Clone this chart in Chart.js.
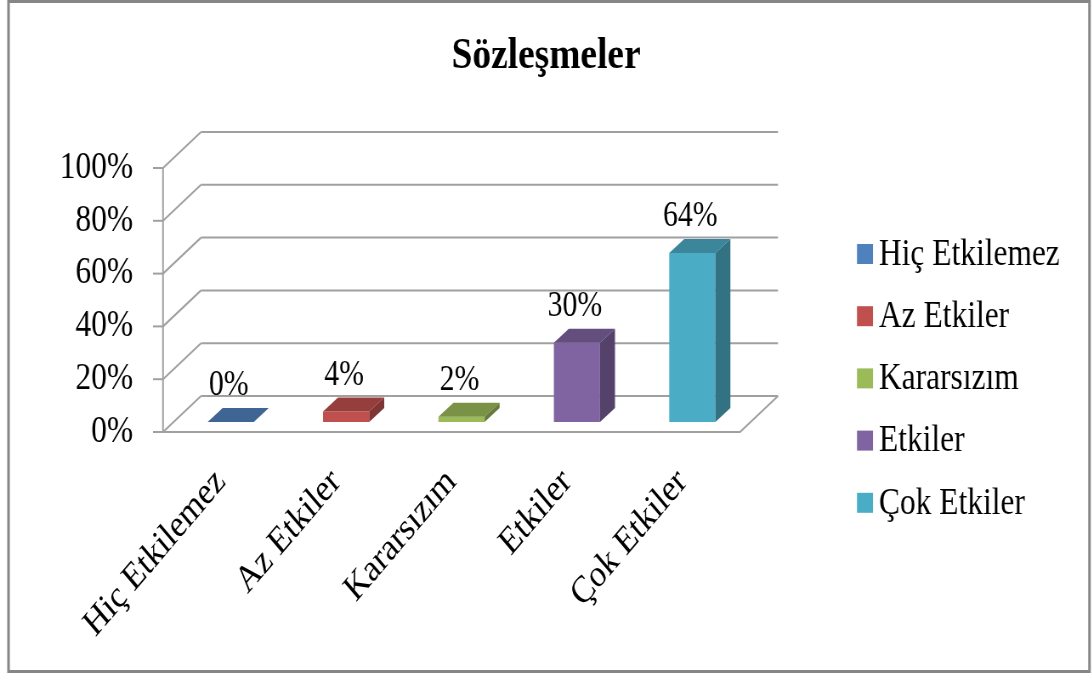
<!DOCTYPE html>
<html>
<head>
<meta charset="utf-8">
<title>Sözleşmeler</title>
<script src="https://cdn.jsdelivr.net/npm/chart.js@4.4.1/dist/chart.umd.min.js"></script>
<style>
  html, body { margin: 0; padding: 0; background: #fff; overflow: hidden; }
  #wrap { transform-origin: 0 0; }
  canvas { display: block; }
</style>
</head>
<body>
<div id="wrap"><canvas id="sozlesmeler"></canvas></div>
<script>
const categories = ['Hiç Etkilemez', 'Az Etkiler', 'Kararsızım', 'Etkiler', 'Çok Etkiler'];
const percentages = [0, 4, 2, 30, 64];
const yTickValues = [0, 20, 40, 60, 80, 100];
const barColors = ['#4f81bd', '#c0504d', '#9bbb59', '#8064a2', '#4bacc6'];

// the chart is laid out wide and then squeezed horizontally into the page
const PAGE_W = 1092, PAGE_H = 675;
const SQUEEZE = 0.85;
const sx = v => v / SQUEEZE;
const CANVAS_W = Math.round(sx(PAGE_W));

const FONT = "'Liberation Serif', 'Times New Roman', serif";
const GRID = '#a0a0a0';
// depth of the back wall, and where the columns sit inside it
const WALL_DX = sx(38), WALL_DY = 36;
const BAR_OX = sx(10), BAR_OY = 10;
const BAR_DX = sx(15), BAR_DY = 14;

const canvas = document.getElementById('sozlesmeler');
canvas.width = CANVAS_W;
canvas.height = PAGE_H;
document.getElementById('wrap').style.transform = 'scaleX(' + SQUEEZE + ')';

function shade(hex, f) {
    const n = parseInt(hex.slice(1), 16);
    const r = Math.round(((n >> 16) & 255) * f);
    const g = Math.round(((n >> 8) & 255) * f);
    const b = Math.round((n & 255) * f);
    return 'rgb(' + r + ',' + g + ',' + b + ')';
}

function line(ctx, x1, y1, x2, y2) {
    ctx.beginPath();
    ctx.moveTo(x1, y1);
    ctx.lineTo(x2, y2);
    ctx.stroke();
}

const box3d = {
    id: 'box3d',
    beforeDatasetsDraw(chart) {
        const ctx = chart.ctx;
        const area = chart.chartArea;
        const yScale = chart.scales.y;
        ctx.save();
        ctx.strokeStyle = GRID;
        ctx.lineWidth = 2;
        // left wall diagonals, tick marks and back wall gridlines
        yTickValues.forEach(v => {
            const y = yScale.getPixelForValue(v);
            line(ctx, area.left - sx(10), y, area.left, y);
            line(ctx, area.left, y, area.left + WALL_DX, y - WALL_DY);
            line(ctx, area.left + WALL_DX, y - WALL_DY, area.right + WALL_DX, y - WALL_DY);
        });
        // value axis and floor
        line(ctx, area.left, area.top, area.left, area.bottom);
        ctx.beginPath();
        ctx.moveTo(area.left, area.bottom);
        ctx.lineTo(area.right, area.bottom);
        ctx.lineTo(area.right + WALL_DX, area.bottom - WALL_DY);
        ctx.stroke();
        ctx.restore();

        // front faces are drawn by Chart.js, pushed back into the box
        ctx.save();
        ctx.translate(BAR_OX, -BAR_OY);
    },
    afterDatasetsDraw(chart) {
        const ctx = chart.ctx;
        ctx.restore();
        const meta = chart.getDatasetMeta(0);
        ctx.save();
        meta.data.forEach((bar, i) => {
            const p = bar.getProps(['x', 'y', 'base', 'width'], true);
            const left = p.x - p.width / 2 + BAR_OX;
            const right = p.x + p.width / 2 + BAR_OX;
            const top = p.y - BAR_OY;
            const bottom = p.base - BAR_OY;
            // top face
            ctx.fillStyle = shade(barColors[i], 0.78);
            ctx.beginPath();
            ctx.moveTo(left, top);
            ctx.lineTo(right, top);
            ctx.lineTo(right + BAR_DX, top - BAR_DY);
            ctx.lineTo(left + BAR_DX, top - BAR_DY);
            ctx.closePath();
            ctx.fill();
            // side face
            ctx.fillStyle = shade(barColors[i], 0.66);
            ctx.beginPath();
            ctx.moveTo(right, top);
            ctx.lineTo(right + BAR_DX, top - BAR_DY);
            ctx.lineTo(right + BAR_DX, bottom - BAR_DY);
            ctx.lineTo(right, bottom);
            ctx.closePath();
            ctx.fill();
            // value label above the column
            ctx.fillStyle = '#000';
            ctx.font = '35px ' + FONT;
            ctx.textAlign = 'center';
            ctx.textBaseline = 'middle';
            ctx.fillText(percentages[i] + '%', p.x + BAR_OX - sx(2), top - BAR_DY - 22);
        });
        ctx.restore();
    },
    afterDraw(chart) {
        const ctx = chart.ctx;
        ctx.save();
        // legend
        ctx.font = '37px ' + FONT;
        ctx.textAlign = 'left';
        ctx.textBaseline = 'middle';
        categories.forEach((name, i) => {
            const cy = 254 + i * 62.2;
            ctx.fillStyle = barColors[i];
            ctx.fillRect(sx(857), cy - 10, sx(16), 20);
            ctx.fillStyle = '#000';
            ctx.fillText(name, sx(879), cy + 1);
        });
        // outer frame
        ctx.strokeStyle = '#868686';
        ctx.lineWidth = 3;
        ctx.strokeRect(sx(8.5), 1.5, sx(1081), 670);
        ctx.restore();
    }
};

new Chart(canvas, {
    type: 'bar',
    data: {
        labels: categories,
        datasets: [{
            data: percentages,
            backgroundColor: barColors,
            borderWidth: 0,
            barPercentage: 0.4,
            categoryPercentage: 1
        }]
    },
    options: {
        responsive: false,
        animation: false,
        devicePixelRatio: 1,
        layout: { padding: 0 },
        plugins: {
            legend: { display: false },
            tooltip: { enabled: false },
            title: {
                display: true,
                text: 'Sözleşmeler',
                color: '#000',
                font: { family: FONT, size: 44, weight: 'bold' },
                padding: { top: 30, bottom: 85.2 }
            }
        },
        scales: {
            x: {
                grid: { display: false, drawTicks: false },
                border: { display: false },
                ticks: {
                    color: '#000',
                    font: { family: FONT, size: 38 },
                    autoSkip: false,
                    minRotation: 45,
                    maxRotation: 45,
                    padding: 28
                },
                afterFit(scale) { scale.height = PAGE_H - 432; }
            },
            y: {
                min: 0,
                max: 100,
                grid: { display: false, drawTicks: false },
                border: { display: false },
                ticks: {
                    color: '#000',
                    font: { family: FONT, size: 37 },
                    padding: sx(30),
                    callback: v => v + '%'
                },
                afterBuildTicks(scale) {
                    scale.ticks = yTickValues.map(v => ({ value: v }));
                },
                afterFit(scale) { scale.width = sx(163); }
            },
            // empty strip that keeps room for the legend on the right
            spacer: {
                type: 'linear',
                position: 'right',
                grid: { display: false },
                border: { display: false },
                ticks: { display: false },
                afterFit(scale) { scale.width = CANVAS_W - sx(740); }
            }
        }
    },
    plugins: [box3d]
});
</script>
</body>
</html>
